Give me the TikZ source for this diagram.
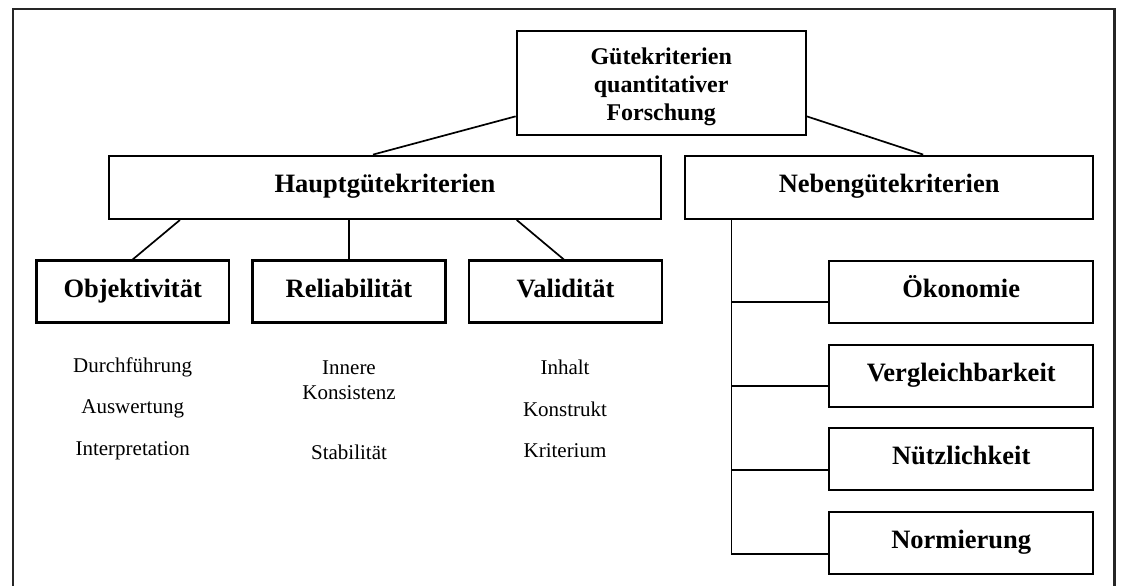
\documentclass[tikz,border=0pt]{standalone}
\usepackage{fontspec}
\setmainfont{Liberation Serif}
\usetikzlibrary{calc}
\begin{document}
\begin{tikzpicture}[x=1pt,y=-1pt,
  box/.style={draw=black,line width=2.1pt,inner sep=0pt,align=center,
    text height=18.5pt,text depth=7.5pt,
    font=\fontsize{26.5}{30}\selectfont\bfseries},
  sub/.style={inner sep=0pt,align=center,font=\fontsize{21}{25}\selectfont},
  link/.style={draw=black,line width=1.7pt}]
\useasboundingbox (0,0) rectangle (1122,586);
% outer frame (open at the bottom edge)
\draw[line width=2.4pt,color=black!85] (12.7,600) -- (12.7,9.3) -- (1114.3,9.3) -- (1114.3,600);

% top level
\node[draw=black,line width=2.1pt,inner sep=0pt,minimum width=289pt,minimum height=104.6pt,
  font=\fontsize{24}{27.5}\selectfont\bfseries] (top) at (661.2,83)
  {\raisebox{-4pt}[\height][\depth]{\begin{tabular}{@{}c@{}}Gütekriterien\\quantitativer\\Forschung\end{tabular}}};

% second level
\node[box,minimum width=552pt,minimum height=63.3pt] (haupt) at (385,187.3) {Hauptgütekriterien};
\node[box,minimum width=408.3pt,minimum height=63.3pt] (neben) at (889.2,187.3) {Nebengütekriterien};

% main criteria
\node[box,minimum width=192.5pt,minimum height=62pt] (obj) at (132.7,291.5) {Objektivität};
\node[box,minimum width=193pt,minimum height=62pt] (rel) at (349,291.5) {Reliabilität};
\node[box,minimum width=193pt,minimum height=62pt] (val) at (565.5,291.5) {Validität};

% secondary criteria
\node[box,minimum width=264.3pt,minimum height=62pt] (oeko) at (961.2,292) {Ökonomie};
\node[box,minimum width=264.3pt,minimum height=62pt] (verg) at (961.2,375.7) {Vergleichbarkeit};
\node[box,minimum width=264.3pt,minimum height=62pt] (nuetz) at (961.2,459.3) {Nützlichkeit};
\node[box,minimum width=264.3pt,minimum height=62pt] (norm) at (961.2,543.3) {Normierung};

% aspects below the main criteria
\node[sub] (o1) at (132.7,367.5) {Durchführung};
\node[sub] (o2) at (132.7,409) {Auswertung};
\node[sub] (o3) at (132.7,451) {Interpretation};
\node[sub] (r1) at (349,380) {Innere\\Konsistenz};
\node[sub] (r2) at (349,452.5) {Stabilität};
\node[sub] (v1) at (565,367.5) {Inhalt};
\node[sub] (v2) at (565,409) {Konstrukt};
\node[sub] (v3) at (565,451) {Kriterium};

% connectors
\draw[link] ($(top.south west)+(0,-20)$) -- ($(haupt.north)+(-12,0)$);
\draw[link] ($(top.south east)+(0,-20)$) -- ($(neben.north)+(34,0)$);
\draw[link] ($(haupt.south west)+(72,0)$) -- (obj.north);
\draw[link] (haupt.south -| rel.north) -- (rel.north);
\draw[link] ($(haupt.south)+(131.7,0)$) -- ($(val.north)+(-1.7,0)$);

\coordinate (nb) at ($(neben.south west)+(47.5,0)$);
\draw[link] (nb) |- ($(norm.west)+(0,10.7)$);
\draw[link] (nb) |- ($(oeko.west)+(0,10.3)$);
\draw[link] (nb) |- ($(verg.west)+(0,10.3)$);
\draw[link] (nb) |- ($(nuetz.west)+(0,10.7)$);
\end{tikzpicture}
\end{document}
